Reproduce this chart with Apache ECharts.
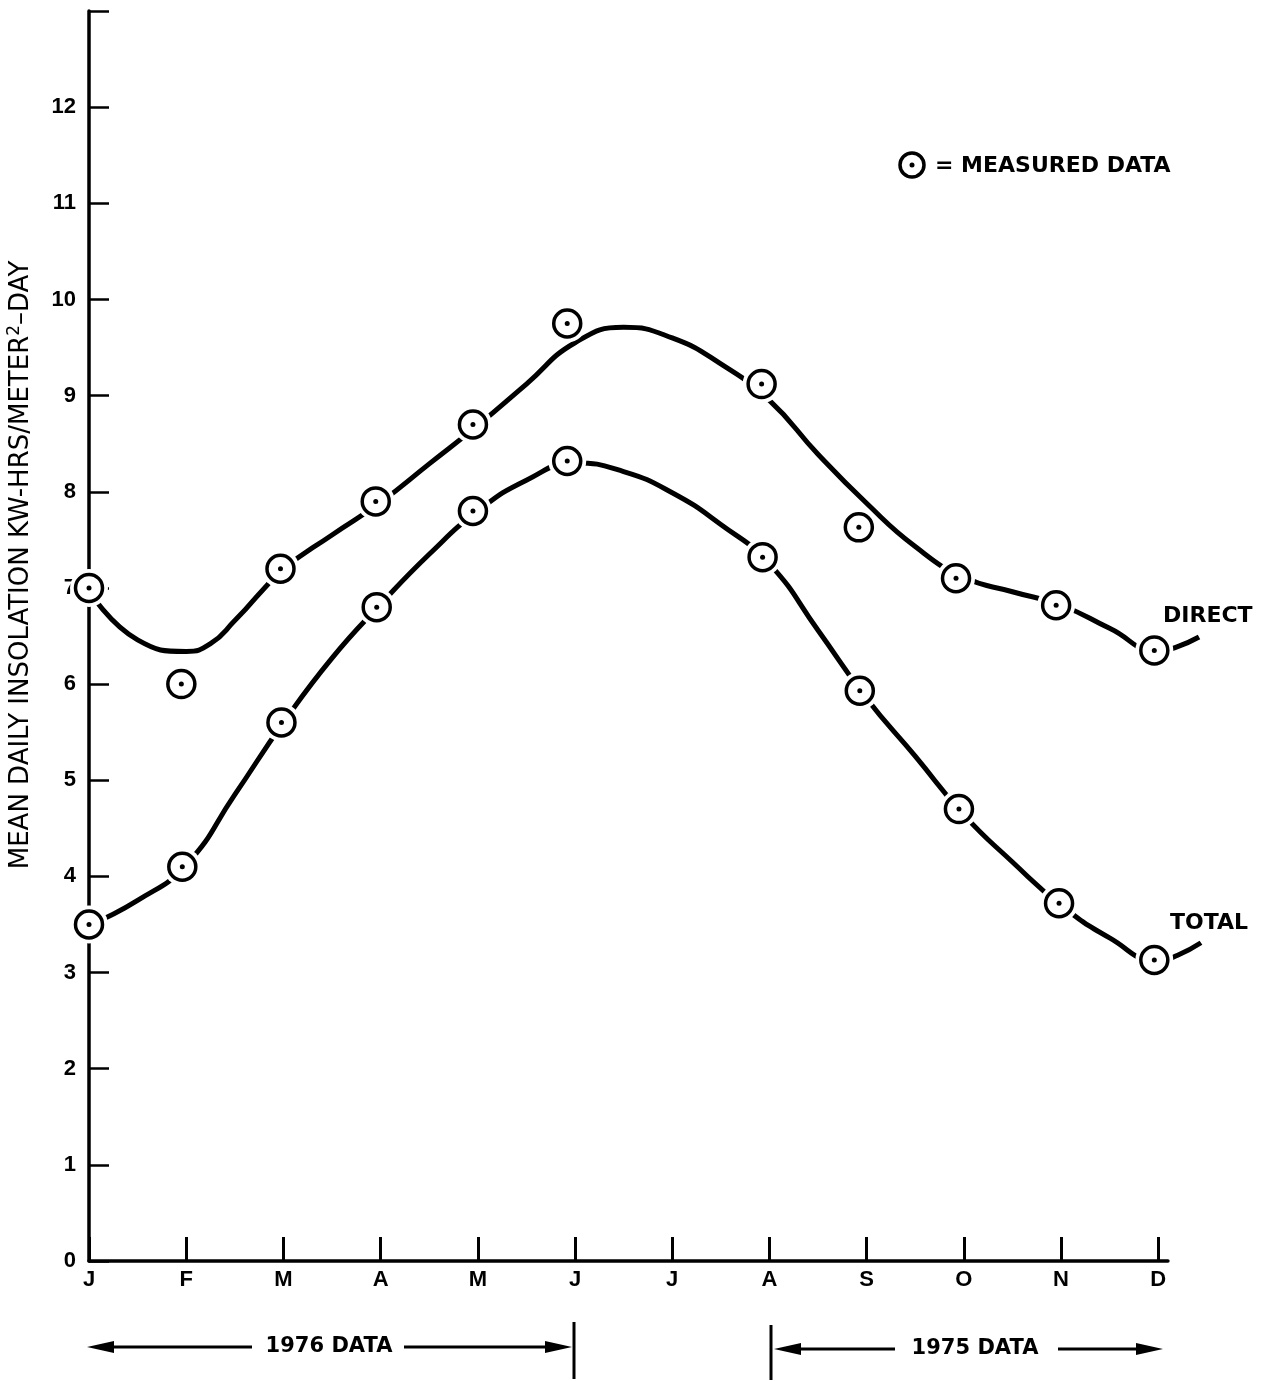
<!DOCTYPE html>
<html>
<head>
<meta charset="utf-8">
<script src="https://cdn.jsdelivr.net/npm/echarts@6/dist/echarts.min.js"></script>
<style>
html,body{margin:0;padding:0;background:#fff;}
#chart{width:1274px;height:1381px;}
</style>
</head>
<body>
<div id="chart"></div>
<script>
// ---- data ----
const months = ['J','F','M','A','M','J','J','A','S','O','N','D'];
const yTicks = [0,1,2,3,4,5,6,7,8,9,10,11,12];
const yAxisTitle = 'MEAN DAILY INSOLATION KW-HRS/METER';
// measured data points [month position, kWh/m2-day]
const directMeasured = [[0,7.0],[0.95,6.0],[1.97,7.2],[2.95,7.9],[3.95,8.7],[4.92,9.75],[6.92,9.12],[7.92,7.63],[8.92,7.1],[9.95,6.82],[10.96,6.35]];
const totalMeasured  = [[0,3.5],[0.96,4.1],[1.98,5.6],[2.96,6.8],[3.95,7.8],[4.92,8.32],[6.93,7.32],[7.93,5.93],[8.95,4.7],[9.98,3.72],[10.96,3.13]];
// fitted curves
const directCurve = [[0,6.97],[0.5,6.46],[1.0,6.34],[1.25,6.42],[1.5,6.66],[2.0,7.19],[2.5,7.55],[3.0,7.89],[3.5,8.29],[4.0,8.69],[4.5,9.12],[5.0,9.55],[5.5,9.71],[6.0,9.6],[6.5,9.33],[7.0,8.95],[7.5,8.39],[8.0,7.88],[8.5,7.43],[9.0,7.11],[9.5,6.96],[10.0,6.82],[10.5,6.58],[11.0,6.34],[11.2,6.39],[11.42,6.49]];
const totalCurve = [[0,3.49],[0.5,3.75],[1.0,4.12],[1.5,4.85],[2.0,5.6],[2.5,6.27],[3.0,6.83],[3.5,7.35],[4.0,7.8],[4.5,8.12],[5.0,8.3],[5.5,8.21],[6.0,7.99],[6.5,7.66],[7.0,7.25],[7.5,6.56],[8.0,5.85],[8.5,5.25],[9.0,4.64],[9.5,4.15],[10.0,3.7],[10.5,3.36],[11.0,3.12],[11.2,3.18],[11.44,3.31]];
const seriesNames = ['DIRECT','TOTAL'];
const legendText = '= MEASURED DATA';
const periodLabels = ['1976 DATA','1975 DATA'];

const FONT = "'Liberation Sans', Arial, Helvetica, sans-serif";
const WFONT = "'DejaVu Sans', 'Liberation Sans', sans-serif";
const chart = echarts.init(document.getElementById('chart'), null, {renderer:'canvas'});

const measuredAll = directMeasured.concat(totalMeasured);
const UNIT = 97.2;

const option = {
  backgroundColor: '#fff',
  animation: false,
  grid: [
    {left: 89, width: UNIT * 11.1, top: 11, bottom: 120, containLabel: false},
    {left: 89, width: UNIT * 11.6, top: 11, bottom: 120, containLabel: false}
  ],
  xAxis: [{
    gridIndex: 0, type: 'value', min: 0, max: 11.1, interval: 1,
    axisLine: {show: true, lineStyle: {color: '#000', width: 3.5}},
    axisTick: {show: true, inside: true, length: 24, lineStyle: {color: '#000', width: 3}, customValues: months.map((m,i)=>i)},
    axisLabel: {show: true, customValues: months.map((m,i)=>i), formatter: v => months[Math.round(v)] || '',
      color: '#000', fontFamily: FONT, fontWeight: 'bold', fontSize: 22, margin: 8},
    splitLine: {show: false}
  }, {
    gridIndex: 1, type: 'value', min: 0, max: 11.6, show: false, splitLine: {show: false}
  }],
  yAxis: [{
    gridIndex: 0, type: 'value', min: 0, max: 13, interval: 1,
    axisLine: {show: true, lineStyle: {color: '#000', width: 3.5}},
    axisTick: {show: true, inside: true, length: 20, lineStyle: {color: '#000', width: 2.5}},
    axisLabel: {show: true, formatter: v => yTicks.indexOf(v) >= 0 ? String(v) : '',
      color: '#000', fontFamily: FONT, fontWeight: 'bold', fontSize: 22, margin: 13},
    splitLine: {show: false}
  }, {
    gridIndex: 1, type: 'value', min: 0, max: 13, show: false, splitLine: {show: false}
  }],
  series: [
    {name: seriesNames[0], type: 'line', xAxisIndex: 1, yAxisIndex: 1, data: directCurve, smooth: 0.5, showSymbol: false,
      lineStyle: {color: '#000', width: 5}, z: 2},
    {name: seriesNames[1], type: 'line', xAxisIndex: 1, yAxisIndex: 1, data: totalCurve, smooth: 0.5, showSymbol: false,
      lineStyle: {color: '#000', width: 5}, z: 2},
    {type: 'scatter', xAxisIndex: 1, yAxisIndex: 1, data: measuredAll, symbol: 'circle', symbolSize: 38,
      itemStyle: {color: '#fff', borderWidth: 0, opacity: 1}, z: 3, silent: true},
    {type: 'scatter', xAxisIndex: 1, yAxisIndex: 1, data: measuredAll, symbol: 'circle', symbolSize: 27,
      itemStyle: {color: '#fff', borderColor: '#000', borderWidth: 3.5, opacity: 1}, z: 4, silent: true},
    {type: 'scatter', xAxisIndex: 1, yAxisIndex: 1, data: measuredAll, symbol: 'circle', symbolSize: 5,
      itemStyle: {color: '#000', opacity: 1}, z: 5, silent: true}
  ],
  graphic: [
    // y axis title
    {type: 'text', x: 19, y: 565, rotation: Math.PI/2, z: 10,
      style: {text: '{a|' + yAxisTitle + '}{s|2}{a|–DAY}', align: 'center', verticalAlign: 'middle',
        rich: {a: {fontFamily: WFONT, fontSize: 26, fill: '#000', verticalAlign: 'bottom', lineHeight: 30},
               s: {fontFamily: WFONT, fontSize: 17, fill: '#000', verticalAlign: 'bottom', lineHeight: 30, padding: [0,0,11,0]}}}},
    // legend
    {type: 'circle', shape: {cx: 912, cy: 165, r: 12}, style: {fill: '#fff', stroke: '#000', lineWidth: 3.5}, z: 10},
    {type: 'circle', shape: {cx: 912, cy: 165, r: 2.5}, style: {fill: '#000'}, z: 10},
    {type: 'text', x: 935, y: 166, z: 10, style: {text: legendText, fontFamily: WFONT, fontWeight: 'bold', fontSize: 22, fill: '#000', verticalAlign: 'middle'}},
    // series labels
    {type: 'text', x: 1163, y: 616, z: 10, style: {text: seriesNames[0], fontFamily: WFONT, fontWeight: 'bold', fontSize: 22, fill: '#000', verticalAlign: 'middle'}},
    {type: 'text', x: 1170, y: 923, z: 10, style: {text: seriesNames[1], fontFamily: WFONT, fontWeight: 'bold', fontSize: 22, fill: '#000', verticalAlign: 'middle'}},
    // 1976 data bracket
    {type: 'line', shape: {x1: 105, y1: 1347, x2: 252, y2: 1347}, style: {stroke: '#000', lineWidth: 3}},
    {type: 'polygon', shape: {points: [[87,1347],[114,1341],[114,1353]]}, style: {fill: '#000'}},
    {type: 'text', x: 329, y: 1347, style: {text: periodLabels[0], fontFamily: WFONT, fontWeight: 'bold', fontSize: 21, fill: '#000', align: 'center', verticalAlign: 'middle'}},
    {type: 'line', shape: {x1: 404, y1: 1347, x2: 550, y2: 1347}, style: {stroke: '#000', lineWidth: 3}},
    {type: 'polygon', shape: {points: [[572,1347],[545,1341],[545,1353]]}, style: {fill: '#000'}},
    {type: 'line', shape: {x1: 574, y1: 1322, x2: 574, y2: 1379}, style: {stroke: '#000', lineWidth: 3}},
    // 1975 data bracket
    {type: 'line', shape: {x1: 771, y1: 1325, x2: 771, y2: 1380}, style: {stroke: '#000', lineWidth: 3}},
    {type: 'polygon', shape: {points: [[774,1349],[801,1343],[801,1355]]}, style: {fill: '#000'}},
    {type: 'line', shape: {x1: 795, y1: 1349, x2: 895, y2: 1349}, style: {stroke: '#000', lineWidth: 3}},
    {type: 'text', x: 975, y: 1349, style: {text: periodLabels[1], fontFamily: WFONT, fontWeight: 'bold', fontSize: 21, fill: '#000', align: 'center', verticalAlign: 'middle'}},
    {type: 'line', shape: {x1: 1058, y1: 1349, x2: 1140, y2: 1349}, style: {stroke: '#000', lineWidth: 3}},
    {type: 'polygon', shape: {points: [[1163,1349],[1136,1343],[1136,1355]]}, style: {fill: '#000'}}
  ]
};
chart.setOption(option);
</script>
</body>
</html>
